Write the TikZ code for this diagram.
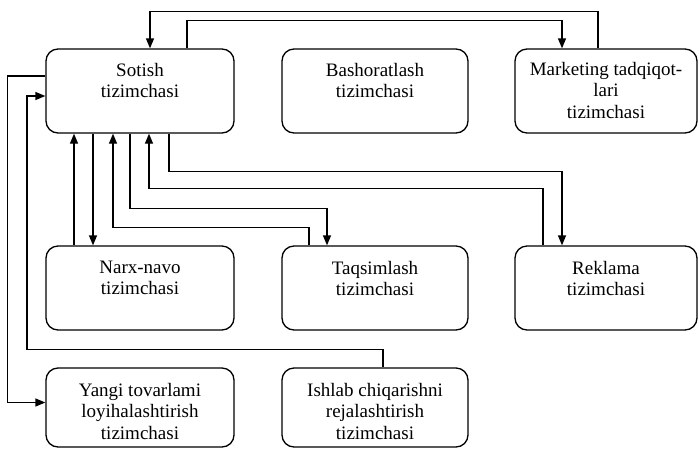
\documentclass[tikz,border=0pt]{standalone}
\usepackage{fontspec}
\setmainfont{Liberation Serif}
\usetikzlibrary{arrows.meta}
\begin{document}
\begin{tikzpicture}[x=1pt,y=-1pt,
  box/.style={draw, line width=1.3pt, rounded corners=12pt, inner sep=0pt},
  lbl/.style={anchor=north, inner sep=0pt, align=center, font=\fontsize{19}{21.5}\selectfont},
  conn/.style={line width=1.3pt},
  arr/.style={conn, -{Triangle[length=10pt,width=8pt]}}]
\useasboundingbox (0,0) rectangle (699,448);
% boxes
\node[box, minimum width=188pt, minimum height=84pt] (sot) at (140,91) {};
\node[box, minimum width=186pt, minimum height=84pt] (bas) at (375,91) {};
\node[box, minimum width=182pt, minimum height=84pt] (mkt) at (606,91) {};
\node[box, minimum width=188pt, minimum height=84pt] (narx) at (140,288) {};
\node[box, minimum width=186pt, minimum height=84pt] (taq) at (375,288) {};
\node[box, minimum width=182pt, minimum height=84pt] (rek) at (606,288) {};
\node[box, minimum width=188pt, minimum height=79pt] (yangi) at (140,407.5) {};
\node[box, minimum width=186pt, minimum height=79pt] (ish) at (375,407.5) {};
% labels
\node[lbl] (sotT) at ([yshift=-14.5pt]sot.north) {Sotish\\tizimchasi};
\node[lbl] (basT) at ([yshift=-14.5pt]bas.north) {Bashoratlash\\tizimchasi};
\node[lbl] (mktT) at ([yshift=-13.5pt]mkt.north) {Marketing tadqiqot-\\lari\\tizimchasi};
\node[lbl] (narxT) at ([yshift=-15.5pt]narx.north) {Narx-navo\\tizimchasi};
\node[lbl] (taqT) at ([yshift=-15.5pt]taq.north) {Taqsimlash\\tizimchasi};
\node[lbl] (rekT) at ([yshift=-15.5pt]rek.north) {Reklama\\tizimchasi};
\node[lbl] (yangiT) at ([yshift=-15.5pt]yangi.north) {Yangi tovarlami\\loyihalashtirish\\tizimchasi};
\node[lbl] (ishT) at ([yshift=-15.5pt]ish.north) {Ishlab chiqarishni\\rejalashtirish\\tizimchasi};
% connectors
\draw[arr] ([xshift=-8pt]mkt.north) -- ++(0,-37) -| ([xshift=10pt]sot.north);
\draw[arr] ([xshift=47pt]sot.north) -- ++(0,-28) -| ([xshift=-44pt]mkt.north);
\draw[arr] ([yshift=15pt]sot.west) -- ++(-38,0) |- ([yshift=5pt]yangi.west);
\draw[arr] ([xshift=8pt]ish.north) -- ++(0,-18) -- ++(-356,0) |- ([yshift=-5pt]sot.west);
\draw[arr] ([xshift=-66pt]narx.north) -- ([xshift=-66pt]sot.south);
\draw[arr] ([xshift=-47pt]sot.south) -- ([xshift=-47pt]narx.north);
\draw[arr] ([xshift=-66pt]taq.north) -- ++(0,-18) -| ([xshift=-27pt]sot.south);
\draw[arr] ([xshift=-10pt]sot.south) -- ++(0,75) -| ([xshift=-48pt]taq.north);
\draw[arr] ([xshift=-63pt]rek.north) -- ++(0,-57) -| ([xshift=9pt]sot.south);
\draw[arr] ([xshift=29pt]sot.south) -- ++(0,38) -| ([xshift=-44pt]rek.north);
\end{tikzpicture}
\end{document}
